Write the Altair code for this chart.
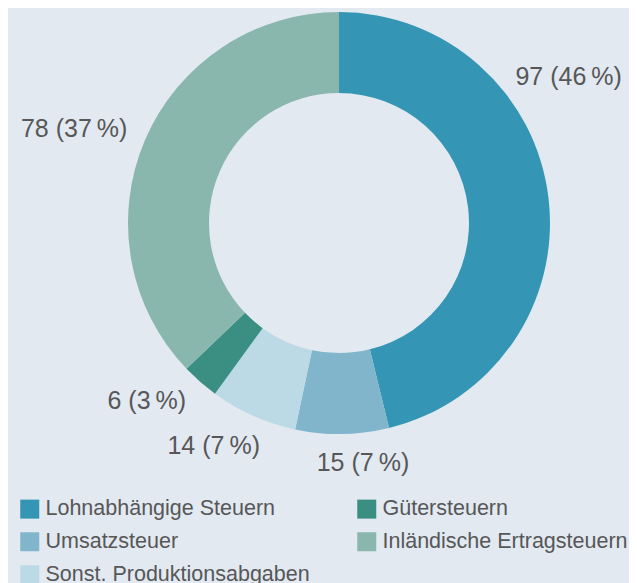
import altair as alt
import pandas as pd

# Data
categories = [
    "Lohnabhängige Steuern",
    "Umsatzsteuer",
    "Sonst. Produktionsabgaben",
    "Gütersteuern",
    "Inländische Ertragsteuern",
]
values = [97, 15, 14, 6, 78]
shares = [46, 7, 7, 3, 37]
slice_colors = ["#3496b4", "#81b5cc", "#bbdae5", "#3a8e82", "#89b7ad"]

# Where the value labels sit (angle clockwise from top in degrees, distance from centre)
label_angle_deg = [57.6, 174.3, 209.3, 227.2, 289.5]
label_radius_px = [272, 241, 256, 262, 281]

df = pd.DataFrame({
    "category": categories,
    "value": values,
    "share": shares,
    "order": list(range(len(categories))),
    "label_angle": label_angle_deg,
    "label_radius": label_radius_px,
    "label": [f"{v} ({s}\u2009%)" for v, s in zip(values, shares)],
})

FONT = "Liberation Sans"
TEXT_COLOR = "#575757"

base = alt.Chart(df)

arcs = base.mark_arc(outerRadius=211, innerRadius=130, strokeWidth=0).encode(
    theta=alt.Theta("value:Q", stack=True),
    order=alt.Order("order:Q"),
    color=alt.Color(
        "category:N",
        scale=alt.Scale(domain=categories, range=slice_colors),
        legend=alt.Legend(
            title=None,
            orient="none",
            legendX=-30,
            legendY=490,
            columns=2,
            symbolType="square",
            symbolSize=361,
            symbolStrokeWidth=0,
            labelFont=FONT,
            labelFontSize=21.5,
            labelColor=TEXT_COLOR,
            labelOffset=5,
            labelLimit=400,
            rowPadding=10,
            columnPadding=46,
        ),
    ),
)

labels = base.transform_calculate(
    lt="datum.label_angle * PI / 180"
).mark_text(
    font=FONT, fontSize=25, color=TEXT_COLOR, align="center", baseline="middle"
).encode(
    theta=alt.Theta("lt:Q", scale=None, stack=False),
    radius=alt.Radius("label_radius:Q", scale=None),
    text="label:N",
)

chart = alt.layer(arcs, labels).resolve_scale(theta="independent").properties(
    width=580,
    height=430,
    padding={"left": 41, "top": 0, "right": 0, "bottom": 160},
    autosize=alt.AutoSizeParams(type="none"),
    background="#e2e9f1",
).configure_view(stroke=None)

chart.save("out.html", embed_options={"renderer": "svg", "actions": False})
